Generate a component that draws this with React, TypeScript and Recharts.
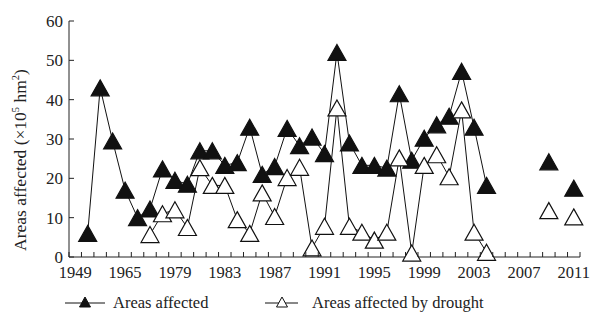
import React from "react";
import { LineChart, Line, XAxis, YAxis, Legend } from "recharts";

// ---- data ----
const years: string[] = [
  "1949", "1950", "1957", "1960", "1965", "1970", "1975", "1978",
  "1979", "1980", "1981", "1982", "1983", "1984", "1985", "1986", "1987", "1988", "1989", "1990",
  "1991", "1992", "1993", "1994", "1995", "1996", "1997", "1998", "1999", "2000",
  "2001", "2002", "2003", "2004", "2005", "2006", "2007", "2008", "2009", "2010", "2011",
];
const areasAffected: (number | null)[] = [
  null, 6, 43, 29.5, 17, 10, 12.2, 22.4,
  19.5, 18.5, 27, 27, 23.3, 24, 33, 21, 23, 32.7, 28.3, 30.5,
  26.3, 52, 29, 23.3, 23.3, 22.6, 41.5, 24.6, 30.2, 33.6,
  35.8, 47.2, 33, 18.2, null, null, null, null, 24.2, null, 17.5,
];
const areasDrought: (number | null)[] = [
  null, null, null, null, null, null, 5.7, 11,
  12, 7.5, 22.7, 18.2, 18.2, 9.5, 6, 16.3, 10.3, 20.2, 22.8, 2.3,
  7.8, 37.9, 7.8, 6.3, 4.3, 6.3, 25.2, 1, 23.3, 26,
  20.4, 37.4, 6.3, 1.2, null, null, null, null, 11.8, null, 10.2,
];
const yTicks: number[] = [0, 10, 20, 30, 40, 50, 60];
const seriesNames = { a: "Areas affected", b: "Areas affected by drought" };

const data = years.map((y, i) => ({ year: y, a: areasAffected[i], b: areasDrought[i] }));

// ---- layout / style ----
const W = 591;
const H = 320;
const MARGIN = { top: 21, right: 11, bottom: 3, left: 0 };
const YW = 69;
const XH = 30;
const PLOT_W = W - MARGIN.left - MARGIN.right - YW;
const BW = PLOT_W / years.length;
const XM = 11;
const YM = 6;
const FONT = '"Liberation Serif", "Times New Roman", serif';
const INK = "#222";

const tri = (cx: number, cy: number, w: number, h: number) =>
  `${cx},${cy - h / 2} ${cx + w / 2},${cy + h / 2} ${cx - w / 2},${cy + h / 2}`;

const makeDot = (filled: boolean) => (props: any) => {
  const { cx, cy, index, value } = props;
  if (cx == null || cy == null || value == null || Number.isNaN(cy)) return <g key={`n${index}`} />;
  return (
    <polygon
      key={`d${index}`}
      points={tri(cx, cy, 18, 16)}
      fill={filled ? "#111" : "#fff"}
      stroke="#111"
      strokeWidth={1.2}
    />
  );
};

const XTick = (props: any) => {
  const { x, y, payload, index } = props;
  const axisY = y - XM;
  return (
    <g>
      <line x1={x - BW / 2} x2={x - BW / 2} y1={axisY} y2={axisY - 5} stroke={INK} strokeWidth={1} />
      {index === years.length - 1 && (
        <line x1={x + BW / 2} x2={x + BW / 2} y1={axisY} y2={axisY - 5} stroke={INK} strokeWidth={1} />
      )}
      {index % 4 === 0 && (
        <text x={x} y={y} dy="0.62em" textAnchor="middle" fontSize={16.5} fontFamily={FONT} fill={INK}>
          {payload.value}
        </text>
      )}
    </g>
  );
};

const YTick = (props: any) => {
  const { x, y, payload } = props;
  return (
    <g>
      <text x={x} y={y} dy="0.355em" textAnchor="end" fontSize={17} fontFamily={FONT} fill={INK}>
        {payload.value}
      </text>
      <line x1={x + YM} x2={x + YM + 5} y1={y} y2={y} stroke={INK} strokeWidth={1} />
    </g>
  );
};

const YLabel = () => (
  <text
    transform="translate(26,160) rotate(-90)"
    textAnchor="middle"
    fontSize={17.5}
    fontFamily={FONT}
    fill={INK}
  >
    Areas affected (×10
    <tspan dy={-7} fontSize={10.5}>5</tspan>
    <tspan dy={7}> hm</tspan>
    <tspan dy={-7} fontSize={10.5}>2</tspan>
    <tspan dy={7}>)</tspan>
  </text>
);

const LegendContent = () => (
  <div style={{ position: "relative", width: W, height: 30, fontFamily: FONT, fontSize: 16.5, color: INK }}>
    <svg width={W} height={30} style={{ position: "absolute", left: 0, top: 0 }}>
      <line x1={65} x2={105} y1={16} y2={16} stroke="#111" strokeWidth={1} />
      <polygon points={tri(85, 15, 11, 10)} fill="#111" stroke="#111" />
      <line x1={265} x2={298} y1={16} y2={16} stroke="#111" strokeWidth={1} />
      <polygon points={tri(282, 15, 11, 10)} fill="#fff" stroke="#111" />
    </svg>
    <span style={{ position: "absolute", left: 113, top: 6, lineHeight: "20px", whiteSpace: "nowrap" }}>
      {seriesNames.a}
    </span>
    <span style={{ position: "absolute", left: 312, top: 6, lineHeight: "20px", whiteSpace: "nowrap" }}>
      {seriesNames.b}
    </span>
  </div>
);

export default function App() {
  return (
    <div style={{ position: "absolute", left: 0, top: 0, width: W, height: H, background: "#fff" }}>
      <LineChart width={W} height={H} data={data} margin={MARGIN}>
        <XAxis
          dataKey="year"
          interval={0}
          height={XH}
          padding={{ left: BW / 2, right: BW / 2 }}
          tickSize={0}
          tickMargin={XM}
          tickLine={false}
          tick={<XTick />}
          axisLine={{ stroke: INK, strokeWidth: 1 }}
        />
        <YAxis
          domain={[0, 60]}
          ticks={yTicks}
          width={YW}
          tickSize={0}
          tickMargin={YM}
          tickLine={false}
          tick={<YTick />}
          axisLine={{ stroke: INK, strokeWidth: 1 }}
          label={{ content: () => <YLabel /> }}
        />
        <Legend verticalAlign="bottom" height={30} wrapperStyle={{ left: 0, width: W }} content={() => <LegendContent />} />
        <Line
          dataKey="a"
          type="linear"
          stroke="#111"
          strokeWidth={1}
          dot={makeDot(true)}
          activeDot={false}
          connectNulls={false}
          isAnimationActive={false}
        />
        <Line
          dataKey="b"
          type="linear"
          stroke="#111"
          strokeWidth={1}
          dot={makeDot(false)}
          activeDot={false}
          connectNulls={false}
          isAnimationActive={false}
        />
      </LineChart>
    </div>
  );
}
